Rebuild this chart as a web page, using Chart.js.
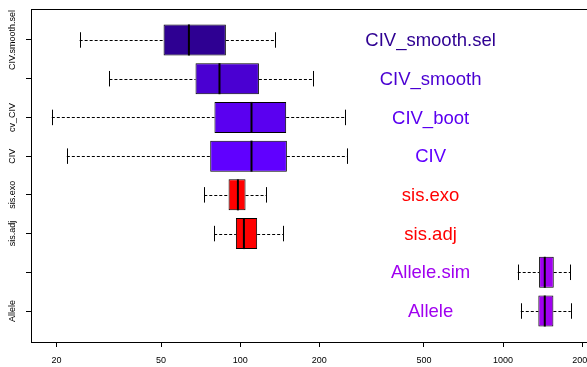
<!DOCTYPE html>
<html>
<head>
<meta charset="utf-8">
<script src="https://cdn.jsdelivr.net/npm/chart.js@4/dist/chart.umd.min.js"></script>
<style>
  html, body { margin: 0; padding: 0; background: #fff; overflow: hidden; }
  canvas { display: block; }
</style>
</head>
<body>
<canvas id="chart" width="587" height="367"></canvas>
<script>
// Estimator groups, top to bottom
const GROUPS = ["CIV_smooth.sel", "CIV_smooth", "CIV_boot", "CIV", "sis.exo", "sis.adj", "Allele.sim", "Allele"];
// Tick labels printed on the vertical axis (blank where the label is suppressed)
const AXIS_LABELS = ["CIV.smooth.sel", "", "cv_CIV", "CIV", "sis.exo", "sis.adj", "", "Allele"];

// Five-number summaries per group
const WHISK_LO = [24.5, 31.8, 19.2, 21.9, 73.0, 79.6, 1137, 1168];
const Q1       = [51.1, 67.6, 79.8, 76.9, 90.3, 96.3, 1371, 1362];
const MEDIAN   = [63.8, 83.4, 110.4, 110.4, 98.0, 103.3, 1441, 1441];
const Q3       = [88.2, 117.8, 149.6, 150.5, 104.8, 116.0, 1559, 1554];
const WHISK_HI = [136.2, 189.5, 250.7, 255.3, 125.6, 145.4, 1803, 1809];

// Log-axis tick values
const X_TICKS = [20, 50, 100, 200, 500, 1000, 2000];

// Fill / label colours per group
const COLORS = ["#2E0092", "#4A00D2", "#5A00F0", "#6000FF", "#FF0000", "#FF0000", "#A000F0", "#A000F0"];

const FONT = "'Liberation Sans', Arial, sans-serif";

// Whiskers, staples, medians, group names and the plot frame
const boxExtras = {
  id: "boxExtras",
  afterDatasetsDraw(chart) {
    const ctx = chart.ctx;
    const xs = chart.scales.x;
    const meta = chart.getDatasetMeta(0);
    ctx.save();
    meta.data.forEach((bar, i) => {
      const y = bar.y;
      const h = bar.height;
      const xLo = xs.getPixelForValue(WHISK_LO[i]);
      const xQ1 = xs.getPixelForValue(Q1[i]);
      const xMed = xs.getPixelForValue(MEDIAN[i]);
      const xQ3 = xs.getPixelForValue(Q3[i]);
      const xHi = xs.getPixelForValue(WHISK_HI[i]);
      const yl = Math.round(y) + 0.5;

      // dashed whiskers
      ctx.strokeStyle = "#000";
      ctx.lineWidth = 1;
      ctx.setLineDash([3, 2]);
      ctx.beginPath();
      ctx.moveTo(xLo, yl); ctx.lineTo(xQ1, yl);
      ctx.moveTo(xQ3, yl); ctx.lineTo(xHi, yl);
      ctx.stroke();

      // staples
      ctx.setLineDash([]);
      const sh = h / 4;
      ctx.beginPath();
      ctx.moveTo(Math.round(xLo) + 0.5, y - sh); ctx.lineTo(Math.round(xLo) + 0.5, y + sh);
      ctx.moveTo(Math.round(xHi) + 0.5, y - sh); ctx.lineTo(Math.round(xHi) + 0.5, y + sh);
      ctx.stroke();

      // median
      ctx.lineWidth = 2;
      ctx.beginPath();
      ctx.moveTo(xMed, y - h / 2); ctx.lineTo(xMed, y + h / 2);
      ctx.stroke();

      // group name
      ctx.fillStyle = COLORS[i];
      ctx.font = "18.5px " + FONT;
      ctx.textAlign = "center";
      ctx.textBaseline = "middle";
      ctx.fillText(GROUPS[i], xs.getPixelForValue(530), y + 1);
    });
    ctx.restore();
  },
  afterDraw(chart) {
    const ctx = chart.ctx;
    const a = chart.chartArea;
    const ys = chart.scales.y;
    ctx.save();
    // frame
    ctx.strokeStyle = "#000";
    ctx.lineWidth = 1;
    ctx.strokeRect(a.left + 0.5, a.top + 0.5, a.right - a.left + 2, a.bottom - a.top);
    // rotated axis labels
    ctx.fillStyle = "#000";
    ctx.font = "9px " + FONT;
    ctx.textAlign = "center";
    ctx.textBaseline = "middle";
    AXIS_LABELS.forEach((lab, i) => {
      if (!lab) return;
      const y = ys.getPixelForValue(i + 1);
      ctx.save();
      ctx.translate(13, y);
      ctx.rotate(-Math.PI / 2);
      ctx.fillText(lab, 0, 0);
      ctx.restore();
    });
    ctx.restore();
  }
};

new Chart(document.getElementById("chart"), {
  type: "bar",
  data: {
    datasets: [{
      data: GROUPS.map((g, i) => ({ x: [Q1[i], Q3[i]], y: i + 1 })),
      backgroundColor: COLORS,
      borderColor: "#000",
      borderWidth: 1,
      borderSkipped: false,
      barPercentage: 0.8,
      categoryPercentage: 1.0
    }]
  },
  options: {
    indexAxis: "y",
    responsive: false,
    animation: false,
    devicePixelRatio: 1,
    layout: { padding: { top: 9, left: 0, right: 0, bottom: 0 } },
    plugins: { legend: { display: false }, tooltip: { enabled: false } },
    scales: {
      x: {
        type: "logarithmic",
        min: 16,
        max: 2086,
        border: { display: false },
        grid: { drawOnChartArea: false, tickLength: 5, color: "#000", tickColor: "#000" },
        ticks: {
          color: "#000",
          font: { family: FONT, size: 9 },
          padding: 8,
          autoSkip: false,
          maxRotation: 0,
          callback: v => String(v)
        },
        afterBuildTicks: s => { s.ticks = X_TICKS.map(v => ({ value: v })); },
        afterFit: s => { s.height = 25; s.paddingLeft = 0; s.paddingRight = 0; }
      },
      y: {
        type: "linear",
        reverse: true,
        offset: false,
        min: 0.2,
        max: 8.8,
        border: { display: false },
        grid: { offset: false, drawOnChartArea: false, tickLength: 5, color: "#000", tickColor: "#000" },
        ticks: { display: false },
        afterBuildTicks: s => { s.ticks = GROUPS.map((g, i) => ({ value: i + 1 })); },
        afterFit: s => { s.width = 31; s.paddingTop = 0; s.paddingBottom = 0; }
      }
    }
  },
  plugins: [boxExtras]
});
</script>
</body>
</html>
